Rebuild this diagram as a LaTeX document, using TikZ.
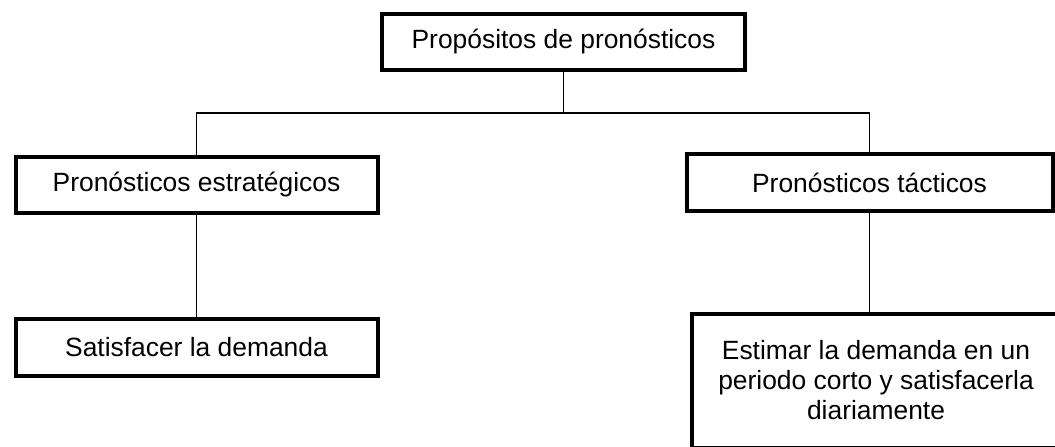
\documentclass[tikz,border=0pt]{standalone}
\usepackage{fontspec}
\setmainfont{Liberation Sans}
\usetikzlibrary{positioning}
\tikzset{
caja/.style={
  draw,line width=2pt,rectangle,inner sep=0pt,
  font=\fontsize{13.2}{15}\selectfont,align=center},
conector/.style={line width=0.75pt}
}

\begin{document}
\begin{tikzpicture}[x=0.5pt,y=-0.5pt]
\useasboundingbox (0,0) rectangle (1055,446);
\clip (0,0) rectangle (1055,446);

\node[caja,minimum width=181.5pt,minimum height=28pt](prop) at (563.5,42) {Propósitos de pronósticos};
\node[caja,minimum width=181pt,minimum height=28pt](estr) at (196.5,185) {Pronósticos estratégicos};
\node[caja,minimum width=183pt,minimum height=28.5pt](tact) at (869.5,182.5) {Pronósticos tácticos};
\node[caja,minimum width=181pt,minimum height=28.5pt](satis) at (196.5,347.5) {Satisfacer la demanda};
\node[caja,minimum width=184pt,minimum height=67pt](estim) at (876,380.5)
  {Estimar la demanda en un\\ periodo corto y satisfacerla\\ diariamente};

\coordinate (bus) at (563.5,113);

\draw[conector] (prop.south) -- (bus);
\draw[conector] (estr.north) |- (bus) -| (tact.north);
\draw[conector] (estr.south) -- (satis.north);
\draw[conector] (tact.south) -- (tact.south |- estim.north);
\end{tikzpicture}
\end{document}
